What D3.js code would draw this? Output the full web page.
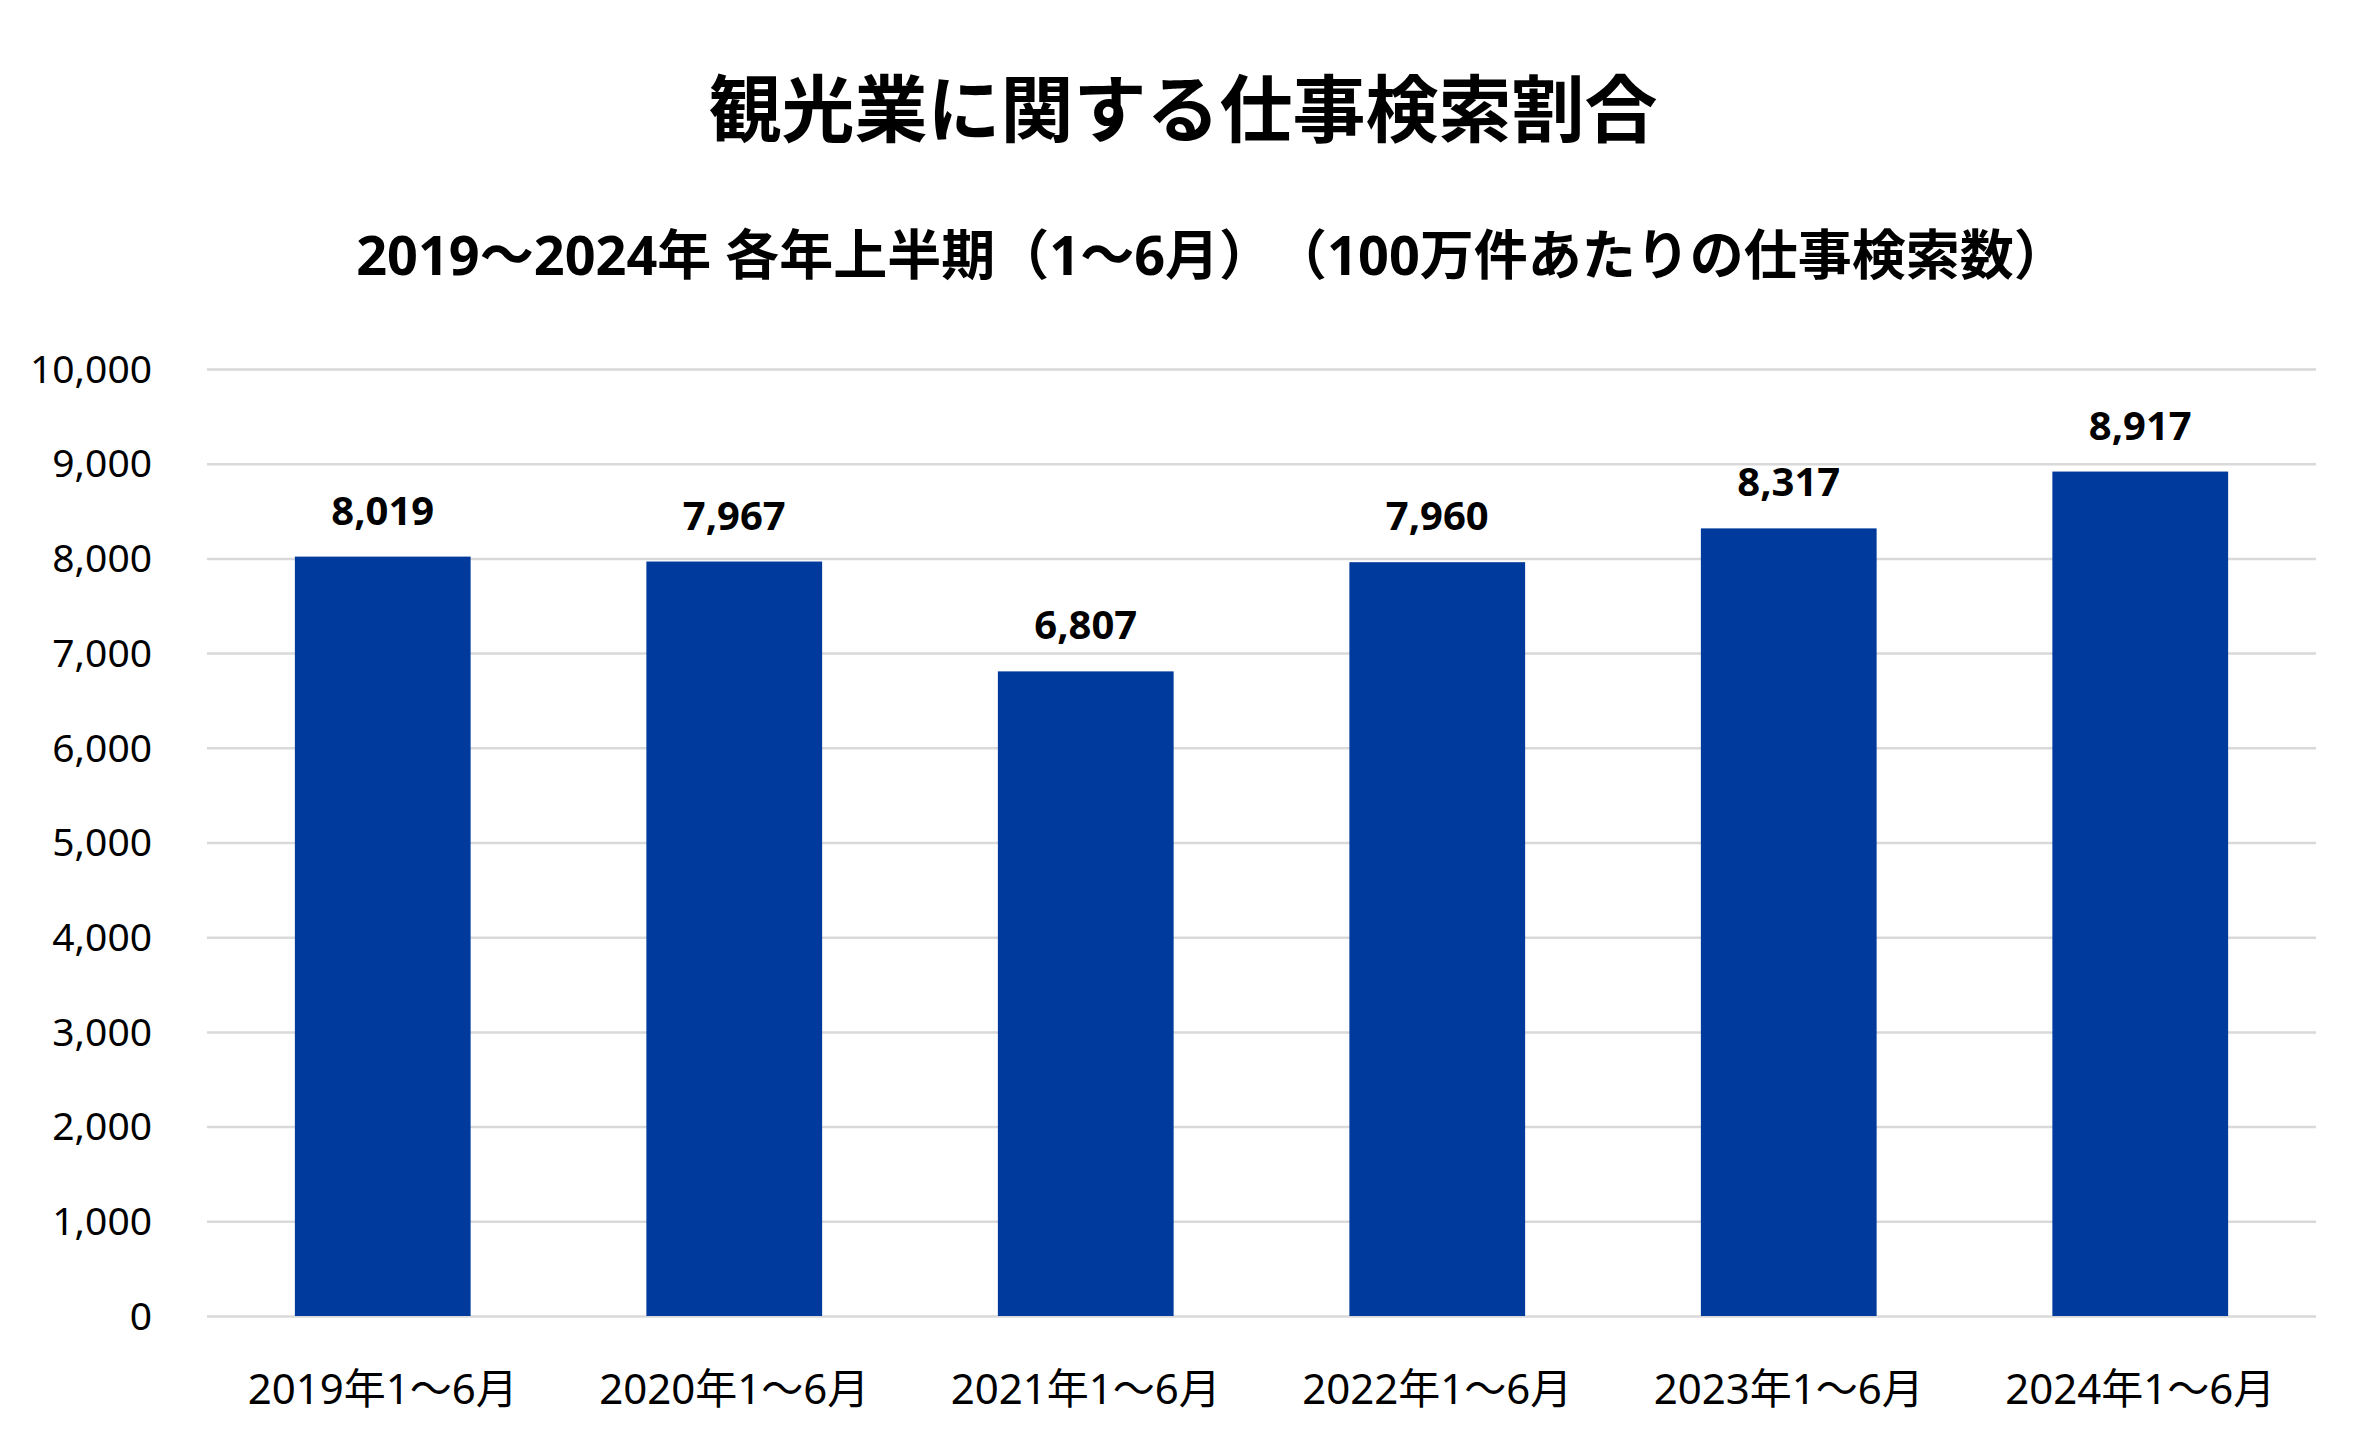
<!DOCTYPE html>
<html>
<head>
<meta charset="utf-8">
<script src="https://cdn.jsdelivr.net/npm/d3@7/dist/d3.min.js"></script>
<style>
  html, body { margin: 0; padding: 0; background: #ffffff; }
  svg text { font-family: "Noto Sans", "Noto Sans CJK JP", sans-serif; fill: #000; text-spacing-trim: space-all; font-kerning: none; }
</style>
</head>
<body>
<svg id="chart" width="2368" height="1454"></svg>
<script>
const title = "観光業に関する仕事検索割合";
const subtitle = "2019〜2024年 各年上半期（1〜6月）（100万件あたりの仕事検索数）";
const categories = ["2019年1〜6月", "2020年1〜6月", "2021年1〜6月", "2022年1〜6月", "2023年1〜6月", "2024年1〜6月"];
const values = [8019, 7967, 6807, 7960, 8317, 8917];
const yTicks = [0, 1000, 2000, 3000, 4000, 5000, 6000, 7000, 8000, 9000, 10000];

const W = 2368, H = 1454;
const margin = { left: 207, right: 52, top: 369, bottom: 138 };
const svg = d3.select("#chart");

const x = d3.scaleBand().domain(categories).range([margin.left, W - margin.right]).paddingInner(0.5).paddingOuter(0.25);
const y = d3.scaleLinear().domain([0, 10000]).range([H - margin.bottom, margin.top]);
const fmt = d3.format(",");

// Title
svg.append("text").attr("x", 1183).attr("y", 136).attr("text-anchor", "middle")
  .attr("font-size", 73).attr("font-weight", 700).text(title);
svg.append("text").attr("x", 1212).attr("y", 275).attr("text-anchor", "middle")
  .attr("font-size", 54).attr("font-weight", 700).text(subtitle);

// Gridlines + y tick labels
const yAxis = d3.axisLeft(y).tickValues(yTicks).tickFormat(fmt)
  .tickSize(-(W - margin.left - margin.right)).tickPadding(55);
const gy = svg.append("g").attr("transform", `translate(${margin.left},0)`).call(yAxis);
gy.select(".domain").remove();
gy.selectAll(".tick line").attr("stroke", "#d9d9d9").attr("stroke-width", 2.5);
gy.selectAll(".tick text").attr("font-size", 39).attr("dy", "0.34em")
  .style("font-family", '"Noto Sans", "Noto Sans CJK JP", sans-serif').attr("fill", "#000");

// Bars
svg.append("g").selectAll("rect").data(values).join("rect")
  .attr("x", (d, i) => x(categories[i]))
  .attr("width", x.bandwidth())
  .attr("y", d => y(d))
  .attr("height", d => y(0) - y(d))
  .attr("fill", "#003a9c");

// Value labels
svg.append("g").selectAll("text").data(values).join("text")
  .attr("x", (d, i) => x(categories[i]) + x.bandwidth() / 2)
  .attr("y", d => y(d) - 32)
  .attr("text-anchor", "middle")
  .attr("font-size", 40).attr("font-weight", 700)
  .text(d => fmt(d));

// X axis labels
const xAxis = d3.axisBottom(x).tickSize(0).tickPadding(0);
const gx = svg.append("g").attr("transform", `translate(0,${H - margin.bottom})`).call(xAxis);
gx.select(".domain").remove();
gx.selectAll(".tick text").attr("font-size", 42).attr("dy", 0).attr("y", 88)
  .style("font-family", '"Noto Sans", "Noto Sans CJK JP", sans-serif').attr("fill", "#000");
</script>
</body>
</html>
